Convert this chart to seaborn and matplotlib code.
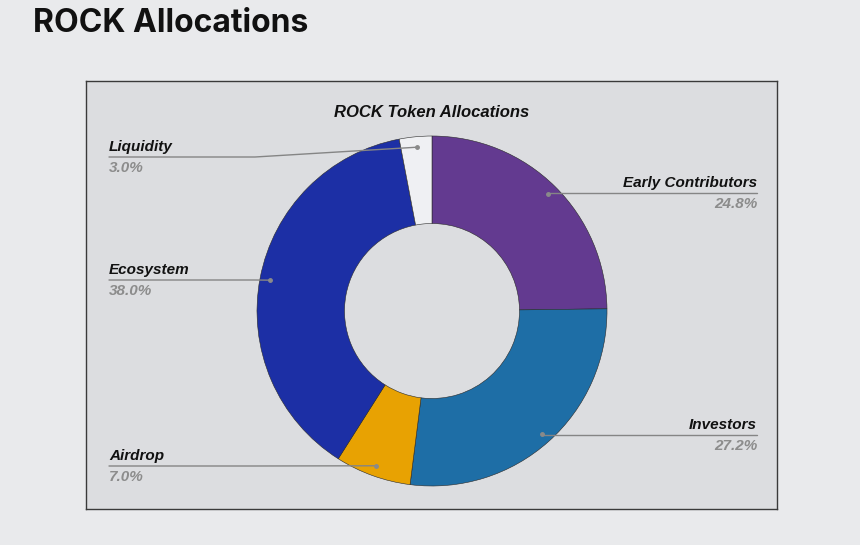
import numpy as np
import matplotlib.pyplot as plt
import seaborn as sns

# data
categories = ['Early Contributors', 'Investors', 'Airdrop', 'Ecosystem', 'Liquidity']
shares = [24.8, 27.2, 7.0, 38.0, 3.0]
colors = ['#633a90', '#1e6ea6', '#e8a202', '#1c2fa5', '#eff0f3']

sns.set_style('white')
plt.rcParams['font.family'] = ['Liberation Sans', 'DejaVu Sans']

W, H = 860, 545
fig = plt.figure(figsize=(W / 100, H / 100), dpi=100, facecolor='#e9eaec')

# page title
fig.text(33 / W, 1 - 24 / H, 'ROCK Allocations', fontsize=23, fontweight='bold',
         family=['Inter', 'DejaVu Sans'], color='#111111', va='center', ha='left')

# chart box, in pixel units (y up)
x0, x1, ytop, ybot = 86, 777, 81, 509
ax = fig.add_axes([x0 / W, 1 - ybot / H, (x1 - x0) / W, (ybot - ytop) / H])
ax.set_facecolor('#dcdde0')

cx, cy, R = 432, H - 311, 175
wedges, _ = ax.pie(shares, colors=colors, startangle=90, counterclock=False,
                   center=(cx, cy), radius=R, frame=True,
                   wedgeprops=dict(width=R * 0.5, edgecolor='#2a2a2a', linewidth=0.4))
ax.set_xlim(x0, x1)
ax.set_ylim(H - ybot, H - ytop)
ax.set_xticks([])
ax.set_yticks([])
for s in ax.spines.values():
    s.set_visible(True)
    s.set_color('#3a3a3a')
    s.set_linewidth(1.0)

ax.text(cx, H - 112, 'ROCK Token Allocations', ha='center', va='center',
        fontsize=12, fontweight='bold', style='italic', color='#111111')

# label layout: line height of each label (image px)
label_y = {'Early Contributors': 193, 'Investors': 435, 'Airdrop': 466,
           'Ecosystem': 280, 'Liquidity': 157}
left_x, right_x = 109, 757

for w, name, val in zip(wedges, categories, shares):
    mid = np.deg2rad((w.theta1 + w.theta2) / 2)
    px = cx + 0.94 * R * np.cos(mid)
    py = cy + 0.94 * R * np.sin(mid)
    ly = H - label_y[name]
    if px < cx:
        tx, ha = left_x, 'left'
        elbow = min(255, px)
    else:
        tx, ha = right_x, 'right'
        elbow = px
    ax.plot([tx, elbow, px], [ly, ly, py], color='#858585', lw=1.0, zorder=5)
    ax.plot(px, py, 'o', ms=2.5, color='#8a8a8a', zorder=6)
    ax.text(tx, ly + 3, name, ha=ha, va='bottom', fontsize=11,
            fontweight='bold', style='italic', color='#111111')
    ax.text(tx, ly - 4, f'{val:.1f}%', ha=ha, va='top', fontsize=11,
            fontweight='bold', style='italic', color='#8c8c8c')

fig.savefig('out.png', dpi=100, facecolor=fig.get_facecolor())
